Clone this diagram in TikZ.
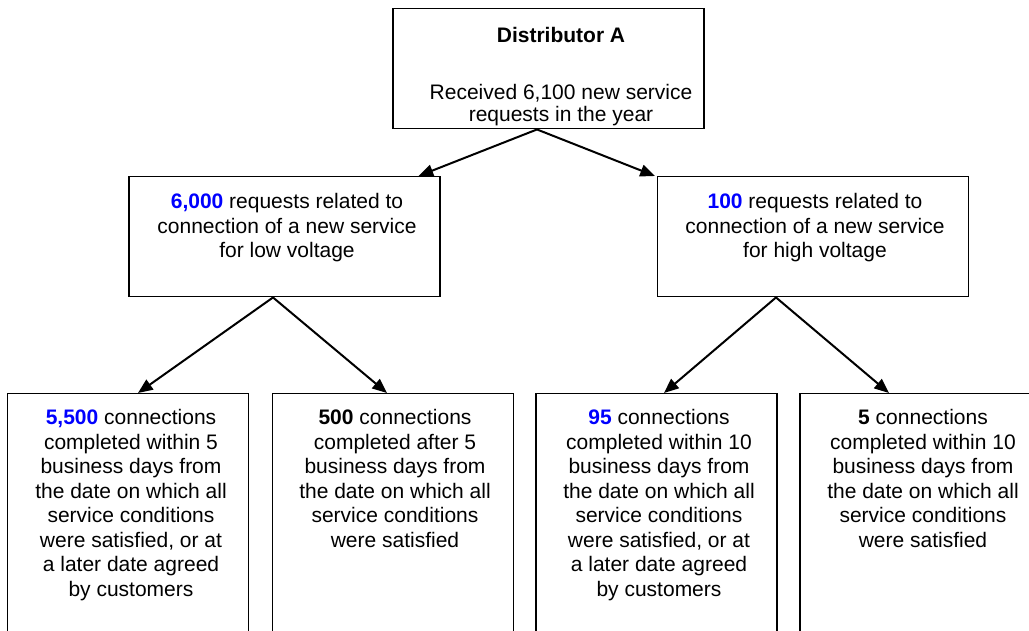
\documentclass[tikz,border=0pt]{standalone}
\usepackage{fontspec}
\setmainfont{Liberation Sans}
\usetikzlibrary{positioning,arrows.meta}
\definecolor{numblue}{RGB}{0,0,255}

\begin{document}
\begin{tikzpicture}[x=0.75pt,y=-0.75pt,
  box/.style={draw,line width=1.1pt,anchor=north,minimum width=233pt,minimum height=90pt},
  leaf/.style={box,minimum width=180.5pt,minimum height=200pt},
  txt/.style={align=center,inner sep=0pt,anchor=north,font=\fontsize{15.75pt}{18.4pt}\selectfont},
  arr/.style={-{Triangle[length=11pt,width=9pt]},line width=1.5pt}]
\clip (0,0) rectangle (1029,631);

% boxes
\node[box] (dist) at (548.5,8) {};
\node[box] (lv) at (284.5,176) {};
\node[box] (hv) at (813,176) {};
\node[leaf] (lvin) at (128,393) {};
\node[leaf] (lvout) at (393,393) {};
\node[leaf] (hvin) at (656.5,393) {};
\node[leaf] (hvout) at (920.5,393) {};

% texts
\node[txt,font=\fontsize{15.75pt}{16.5pt}\selectfont] (disttxt) at (561,27)
  {\textbf{Distributor A}\\[26pt]Received 6,100 new service\\requests in the year};
\node[txt] (lvtxt) at (287,193)
  {\textcolor{numblue}{\textbf{6,000}} requests related to\\connection of a new service\\for low voltage};
\node[txt] (hvtxt) at (815,193)
  {\textcolor{numblue}{\textbf{100}} requests related to\\connection of a new service\\for high voltage};
\node[txt] (lvintxt) at (131,409)
  {\textcolor{numblue}{\textbf{5,500}} connections\\completed within 5\\business days from\\the date on which all\\service conditions\\were satisfied, or at\\a later date agreed\\by customers};
\node[txt] (lvouttxt) at (395,409)
  {\textbf{500} connections\\completed after 5\\business days from\\the date on which all\\service conditions\\were satisfied};
\node[txt] (hvintxt) at (659,409)
  {\textcolor{numblue}{\textbf{95}} connections\\completed within 10\\business days from\\the date on which all\\service conditions\\were satisfied, or at\\a later date agreed\\by customers};
\node[txt] (hvouttxt) at (923,409)
  {\textbf{5} connections\\completed within 10\\business days from\\the date on which all\\service conditions\\were satisfied};

% connectors
\draw[arr] ([shift={(-11.5,0)}]dist.south) -- ([shift={(-22,0)}]lv.north east);
\draw[arr] ([shift={(-11.5,0)}]dist.south) -- ([shift={(-2,0)}]hv.north west);
\draw[arr] ([shift={(-11.5,0)}]lv.south) -- ([shift={(10,0)}]lvin.north);
\draw[arr] ([shift={(-11.5,0)}]lv.south) -- ([shift={(-6,0)}]lvout.north);
\draw[arr] ([shift={(-37,0)}]hv.south) -- ([shift={(7.5,0)}]hvin.north);
\draw[arr] ([shift={(-37,0)}]hv.south) -- ([shift={(-31.5,0)}]hvout.north);
\end{tikzpicture}
\end{document}
